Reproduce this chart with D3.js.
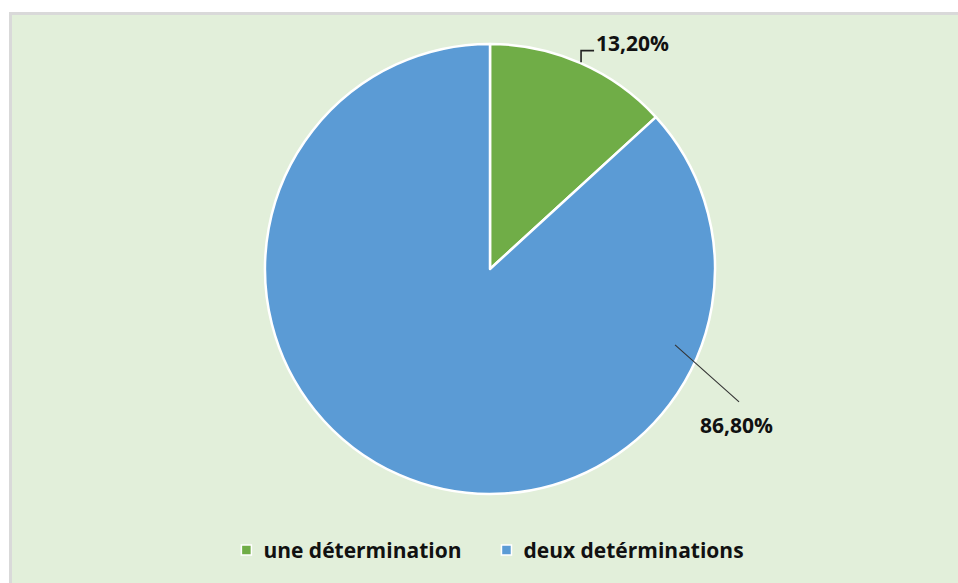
<!DOCTYPE html>
<html>
<head>
<meta charset="utf-8">
<script src="https://cdn.jsdelivr.net/npm/d3@7"></script>
<style>
  html, body { margin: 0; padding: 0; background: #ffffff; }
  svg { display: block; }
  text { font-family: "Open Sans", "DejaVu Sans", sans-serif; font-weight: 700; fill: #111; }
</style>
</head>
<body>
<svg id="chart" width="958" height="583"></svg>
<script>
// Share of cases by number of determinations
const categories = ["une détermination", "deux detérminations"];
const values = [13.2, 86.8];
const valueLabels = ["13,20%", "86,80%"];
const colors = ["#70AD47", "#5B9BD5"];

const W = 958, H = 583;
const svg = d3.select("#chart");

// chart area with light green fill and grey edge
svg.append("rect")
  .attr("x", 10.5).attr("y", 13.5)
  .attr("width", W).attr("height", H)
  .attr("fill", "#E2EFDA")
  .attr("stroke", "#D9D9D9").attr("stroke-width", 3);

const cx = 490, cy = 269, R = 225;
const g = svg.append("g").attr("transform", `translate(${cx},${cy})`);

const pie = d3.pie().sort(null).value(d => d)(values);
const arc = d3.arc().innerRadius(0).outerRadius(R);

g.selectAll("path.slice")
  .data(pie)
  .join("path")
  .attr("class", "slice")
  .attr("d", arc)
  .attr("fill", (d, i) => colors[i])
  .attr("stroke", "#ffffff")
  .attr("stroke-width", 2.5)
  .attr("stroke-linejoin", "round");

// polar helper: angle measured clockwise from 12 o'clock
const polar = (a, r) => [r * Math.sin(a), -r * Math.cos(a)];

// small slice: elbow leader from the rim at its mid angle
{
  const d = pie[0];
  const mid = (d.startAngle + d.endAngle) / 2;
  const [x0, y0] = polar(mid, R + 1);
  const yTop = y0 - 11.5;
  const xEnd = x0 + 13;
  g.append("path")
    .attr("d", `M${x0},${y0}V${yTop}H${xEnd}`)
    .attr("fill", "none").attr("stroke", "#222").attr("stroke-width", 1.6);
  g.append("text")
    .attr("x", xEnd + 2).attr("y", yTop + 0.5)
    .attr("font-size", 21)
    .text(valueLabels[0]);
}

// large slice: label moved to the lower right, straight leader into the slice
{
  const a = 112.3 * Math.PI / 180;
  const [x0, y0] = polar(a, 200);
  const x1 = x0 + 64, y1 = y0 + 57;
  g.append("line")
    .attr("x1", x0).attr("y1", y0).attr("x2", x1).attr("y2", y1)
    .attr("stroke", "#333").attr("stroke-width", 1.1);
  g.append("text")
    .attr("x", x1 - 39).attr("y", y1 + 31)
    .attr("font-size", 21)
    .text(valueLabels[1]);
}

// legend, centred under the pie
const legend = svg.append("g");
const items = legend.selectAll("g.item").data(categories).join("g").attr("class", "item");
items.append("rect")
  .attr("width", 10).attr("height", 10)
  .attr("y", -13)
  .attr("fill", (d, i) => colors[i])
  .attr("stroke", "#ffffff").attr("stroke-width", 1.5);
items.append("text")
  .attr("x", 22).attr("y", 0)
  .attr("font-size", 21)
  .text(d => d);

let xPos = 0;
const gap = 40;
items.each(function () {
  const t = d3.select(this).select("text").node().getComputedTextLength();
  d3.select(this).attr("transform", `translate(${xPos},0)`);
  xPos += 22 + t + gap;
});
const totalW = xPos - gap;
legend.attr("transform", `translate(${492.5 - totalW / 2},558)`);
</script>
</body>
</html>
